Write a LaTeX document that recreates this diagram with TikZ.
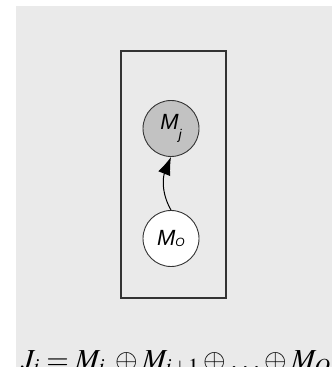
\documentclass[tikz,border=0pt]{standalone}
\usepackage{mathptmx}
\usepackage{fontspec}
\usetikzlibrary{arrows.meta}
\newfontfamily\arialfont{Liberation Sans}
\definecolor{bgcol}{HTML}{EAEAEA}
\definecolor{linecol}{HTML}{333333}
\definecolor{obscol}{HTML}{C2C2C2}
\tikzset{
  var/.style={circle, draw=linecol, line width=0.9pt, minimum size=56pt, inner sep=0pt,
    font=\arialfont\itshape\fontsize{22}{22}\selectfont},
  plate/.style={draw=linecol, line width=1.3pt},
  arr/.style={-{Latex[length=18pt,width=13pt]}, line width=1pt, draw=black}
}
\begin{document}
\begin{tikzpicture}[x=1pt,y=1pt]
\useasboundingbox (0,0) rectangle (332,367);
\fill[bgcol] (16,0) rectangle (332,361);
\draw[plate] (121,69) rectangle (226,316);
\node[var, fill=obscol] (Mj) at (171,238.5) {M\raisebox{-10pt}{\fontsize{14}{14}\selectfont j}};
\node[var, fill=white] (Mo) at (171,128.5) {M\raisebox{-1.5pt}{\fontsize{12}{12}\selectfont O}};
\draw[arr] (Mo.north) to[out=120,in=-112] (Mj.south);
\node[anchor=base west, inner sep=0pt, font=\fontsize{29}{30}\selectfont] (eq) at (21,-2)
  {$J_i = M_i\;\oplus M_{i+1} \oplus \ldots \oplus M_O$};
\end{tikzpicture}
\end{document}
